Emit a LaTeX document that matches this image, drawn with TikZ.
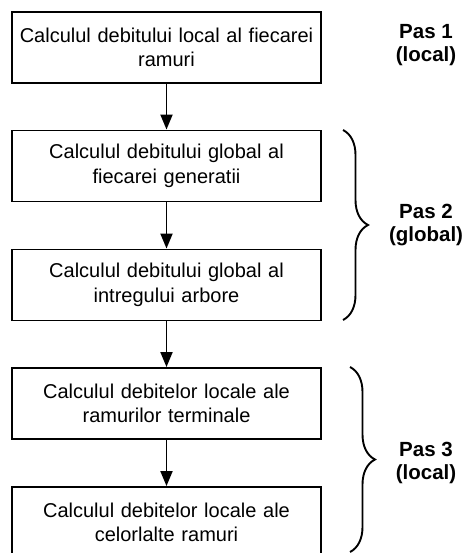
\documentclass[tikz,border=0pt]{standalone}
\usepackage{fontspec}
\setmainfont{Liberation Sans}
\usetikzlibrary{arrows.meta, decorations.pathreplacing}

\begin{document}
\begin{tikzpicture}[x=1pt, y=-1pt, line width=1.9pt]
	\tikzstyle{every node} = [font=\fontsize{20}{24.5}\selectfont]
	\tikzstyle{stepbox} = [draw, rectangle, minimum width=309pt, minimum height=71pt, text width=300pt, align=center, inner sep=0pt]
	\tikzstyle{paslabel} = [align=center, font=\bfseries\fontsize{20.5}{22.5}\selectfont]
	\tikzstyle{flow} = [-{Triangle[width=12pt, length=15pt]}]
	\tikzstyle{pasbrace} = [decorate, decoration={brace, amplitude=25pt}]
	\useasboundingbox (0,0) rectangle (464,553);
	\clip (0,0) rectangle (464,553);
	\node[stepbox] (local) at (166.5, 47.5) {Calculul debitului local al fiecarei\\ramuri};
	\node[stepbox] (gen) at (166.5, 166) {Calculul debitului global al\\fiecarei generatii};
	\node[stepbox] (tree) at (166.5, 285) {Calculul debitului global al\\intregului arbore};
	\node[stepbox] (term) at (166.5, 403.5) {Calculul debitelor locale ale\\ramurilor terminale};
	\node[stepbox] (rest) at (166.5, 522.5) {Calculul debitelor locale ale\\celorlalte ramuri};
	\draw [flow] (local)--(gen);
	\draw [flow] (gen)--(tree);
	\draw [flow] (tree)--(term);
	\draw [flow] (term)--(rest);
	\coordinate (b2top) at (343, 130);
	\coordinate (b2bot) at (343, 320);
	\coordinate (b3top) at (350, 367);
	\coordinate (b3bot) at (350, 552);
	\draw [pasbrace] (b2top)--(b2bot);
	\draw [pasbrace] (b3top)--(b3bot);
	\node[paslabel] (pas1) at (426, 45) {Pas 1\\(local)};
	\node[paslabel] (pas2) at (426, 225) {Pas 2\\(global)};
	\node[paslabel] (pas3) at (426, 463) {Pas 3\\(local)};
\end{tikzpicture}
\end{document}
